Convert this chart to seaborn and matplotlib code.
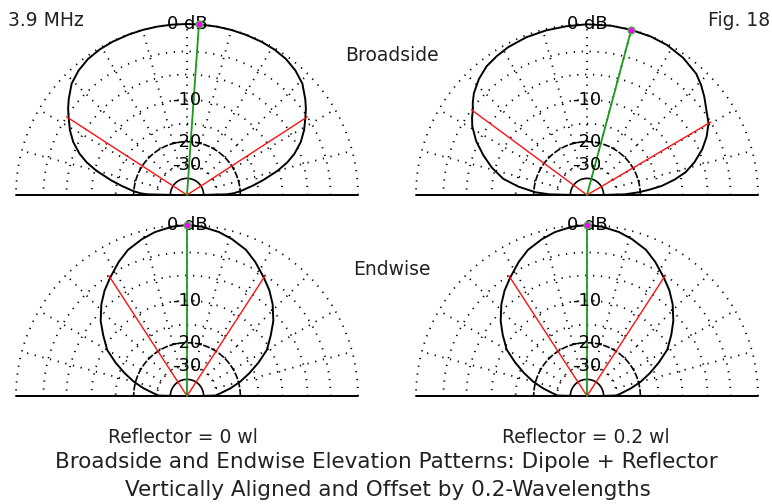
import numpy as np
import pandas as pd
import matplotlib
matplotlib.use('Agg')
import matplotlib.pyplot as plt
import seaborn as sns

# elevation patterns (elevation angle in deg, gain in dB)
bs0_elev = [0, 1, 2, 4, 8, 11, 15, 18, 21, 25, 29, 33, 36, 39, 44, 49, 54, 59, 64, 70, 75, 80, 86,
            90, 95, 100, 105, 110, 116, 121, 126, 131, 136, 141, 144, 147, 151, 155, 159, 162, 165,
            169, 172, 176, 178, 179, 180]
bs0_gain = [-45, -25, -22.5, -20, -16.3, -13.6, -10.3, -8.3, -6.8, -5.3, -4.2, -3.3, -2.6, -2.0, -1.1,
            -0.6, -0.28, -0.13, -0.06, -0.03, -0.01, 0, 0,
            0, 0, 0, -0.01, -0.03, -0.06, -0.13, -0.28, -0.6, -1.1, -2.0, -2.6, -3.3, -4.2, -5.3, -6.8,
            -8.3, -10.3, -13.6, -16.3, -20, -22.5, -25, -45]

bs2_elev = [0, 1, 3, 5, 7, 10, 13, 17, 21.7, 26, 30.5, 34.4, 40, 44, 48, 55, 62, 68, 75, 82, 90, 97,
            104, 111, 118, 123, 128, 133, 138, 141, 143.6, 146, 149, 154, 159, 164, 169, 173, 177, 179, 180]
bs2_gain = [-45, -26, -20.5, -17, -14, -11.2, -9.0, -7.2, -5.5, -4.3, -3.3, -2.8, -1.9, -1.3, -0.8,
            -0.35, -0.1, -0.02, 0, 0, -0.03, -0.1, -0.14, -0.2, -0.35, -0.55, -0.8, -1.3, -2.0, -2.6,
            -3.2, -3.6, -4.2, -5.6, -7.4, -9.4, -11.9, -15.5, -20.6, -26, -45]

ew0_elev = [0, 1, 2, 4.6, 10, 15, 20, 25, 30, 36, 41, 47, 52, 57, 63, 68, 74, 79, 85, 90,
            95, 101, 106, 112, 117, 123, 128, 133, 139, 144, 150, 155, 160, 165, 170, 175.4, 178, 179, 180]
ew0_gain = [-45, -30, -30, -28, -23.3, -19.5, -16.3, -13.3, -10.6, -8.6, -6.9, -5.3, -4.2, -3.3, -2.2,
            -1.4, -0.8, -0.4, -0.1, 0,
            -0.1, -0.4, -0.8, -1.4, -2.2, -3.3, -4.2, -5.3, -6.9, -8.6, -10.6, -13.3, -16.3, -19.5,
            -23.3, -28, -30, -30, -45]

ew2_elev = [0, 1, 2, 4.6, 10, 15, 20, 25, 30, 36, 41, 47, 52, 57, 63, 68, 74, 79, 85, 90,
            95, 101, 106, 112, 117, 123, 128, 133, 139, 144, 150, 155, 160, 165, 170, 175.4, 178, 179, 180]
ew2_gain = [-45, -30, -29.5, -27.5, -23, -19.2, -16.1, -13.2, -10.5, -8.5, -6.9, -5.3, -4.2, -3.3, -2.2,
            -1.4, -0.8, -0.4, -0.1, 0,
            -0.1, -0.4, -0.8, -1.4, -2.2, -3.3, -4.2, -5.3, -6.9, -8.5, -10.5, -13.2, -16.1, -19.2,
            -23, -27.5, -29.5, -30, -45]

peak_elev = [86, 75, 90, 90]
beam_lo = [33, 30.5, 57, 57]
beam_hi = [147, 143.6, 123, 123]

ring_db = [0, -3, -6, -10, -15, -30]
ring_label_db = [0, -10, -20, -30]
ring_label_text = ['0 dB', '-10', '-20', '-30']
spoke_deg = [0, 15, 30, 45, 60, 75, 90, 105, 120, 135, 150, 165, 180]

sub_labels = ['Reflector = 0 wl', 'Reflector = 0.2 wl']
row_labels = ['Broadside', 'Endwise']
title_lines = ['Broadside and Endwise Elevation Patterns: Dipole + Reflector',
               'Vertically Aligned and Offset by 0.2-Wavelengths']

sns.set_theme(style='white')
plt.rcParams['font.family'] = ['DejaVu Sans']
plt.rcParams['lines.scale_dashes'] = False

W, H, DPI = 772, 504, 100
R_PX = 171
TXT = '#222222'


def arrl(db):
    # ARRL log scale: 0.89 per 2 dB
    return 0.89 ** (-np.asarray(db, dtype=float) / 2.0)


def polar_xy(elev, db):
    r = arrl(db)
    t = np.radians(np.asarray(elev, dtype=float))
    return r * np.cos(t), r * np.sin(t)


def make_ax(fig, cx, cy):
    left, right, up, down = 195, 195, 190, 12
    ax = fig.add_axes([(cx - left) / W, (H - cy - down) / H, (left + right) / W, (up + down) / H])
    ax.set_xlim(-left / R_PX, right / R_PX)
    ax.set_ylim(-down / R_PX, up / R_PX)
    ax.axis('off')
    return ax


def draw_grid(ax):
    th = np.linspace(0, np.pi, 361)
    dot = (0, (0.9, 4.8))
    for db in ring_db:
        r = arrl(db)
        ax.plot(r * np.cos(th), r * np.sin(th), color='black', lw=1.3, ls=dot, zorder=1)
    r20 = arrl(-20)
    ax.plot(r20 * np.cos(th), r20 * np.sin(th), color='black', lw=1.2, ls=(0, (5, 1.2)), zorder=1)
    r40 = arrl(-40)
    ax.plot(r40 * np.cos(th), r40 * np.sin(th), color='black', lw=1.2, zorder=1)
    r_in = arrl(-30)
    for a in spoke_deg:
        t = np.radians(a)
        ax.plot([r_in * np.cos(t), np.cos(t)], [r_in * np.sin(t), np.sin(t)],
                color='black', lw=1.3, ls=dot, zorder=1)
    ax.plot([-1, 1], [0, 0], color='black', lw=1.4, zorder=2)
    for db, lab in zip(ring_label_db, ring_label_text):
        ax.text(0, arrl(db), lab, ha='center', va='center', fontsize=13, color='black', zorder=6)


patterns = [(bs0_elev, bs0_gain), (bs2_elev, bs2_gain), (ew0_elev, ew0_gain), (ew2_elev, ew2_gain)]
centers = [(187, 195), (587, 195), (187, 396), (587, 396)]

fig = plt.figure(figsize=(W / DPI, H / DPI), dpi=DPI)
fig.patch.set_facecolor('white')

for i, ((elev, gain), (cx, cy)) in enumerate(zip(patterns, centers)):
    ax = make_ax(fig, cx, cy)
    draw_grid(ax)
    x, y = polar_xy(elev, gain)
    df = pd.DataFrame({'x': x, 'y': y})
    sns.lineplot(data=df, x='x', y='y', sort=False, estimator=None, color='black', lw=1.4, ax=ax, zorder=3)

    # -3 dB beamwidth lines
    for b in (beam_lo[i], beam_hi[i]):
        bx, by = polar_xy([0, b], [-200, -3])
        sns.lineplot(x=bx, y=by, sort=False, estimator=None, color='#ff1010', lw=1.0, ax=ax, zorder=4)
    # max gain direction
    px, py = polar_xy([0, peak_elev[i]], [-200, 0])
    sns.lineplot(x=px, y=py, sort=False, estimator=None, color='#1a9a1a', lw=1.3, ax=ax, zorder=4)
    sns.scatterplot(x=[px[1]], y=[py[1]], color='#ff00ff', edgecolor='#33cc33', s=26, linewidth=0.8, ax=ax, zorder=7)
    ax.set_xlabel('')
    ax.set_ylabel('')


def ftext(x, y, s, **kw):
    fig.text(x / W, 1 - y / H, s, color=TXT, **kw)


ftext(8, 26, '3.9 MHz', ha='left', va='baseline', fontsize=13.5)
ftext(770, 26, 'Fig. 18', ha='right', va='baseline', fontsize=13.5)
ftext(392, 61, row_labels[0], ha='center', va='baseline', fontsize=13.5)
ftext(392, 275, row_labels[1], ha='center', va='baseline', fontsize=13.5)
ftext(183, 443, sub_labels[0], ha='center', va='baseline', fontsize=13.5)
ftext(586, 443, sub_labels[1], ha='center', va='baseline', fontsize=13.5)
ftext(386, 468, title_lines[0], ha='center', va='baseline', fontsize=15.5)
ftext(388, 496, title_lines[1], ha='center', va='baseline', fontsize=15.5)

fig.savefig('out.png', dpi=DPI)
